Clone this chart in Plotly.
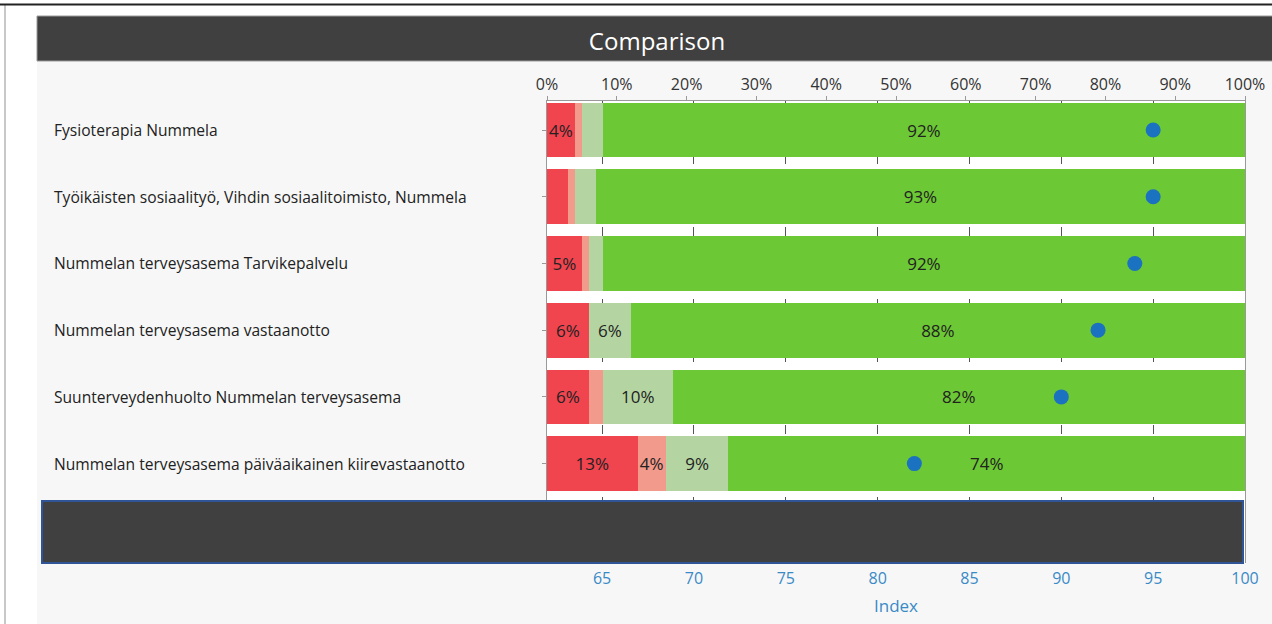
import plotly.graph_objects as go

categories = [
    "Fysioterapia Nummela",
    "Työikäisten sosiaalityö, Vihdin sosiaalitoimisto, Nummela",
    "Nummelan terveysasema Tarvikepalvelu",
    "Nummelan terveysasema vastaanotto",
    "Suunterveydenhuolto Nummelan terveysasema",
    "Nummelan terveysasema päiväaikainen kiirevastaanotto",
]
very_dissatisfied = [4, 3, 5, 6, 6, 13]
dissatisfied = [1, 1, 1, 0, 2, 4]
satisfied = [3, 3, 2, 6, 10, 9]
very_satisfied = [92, 93, 92, 88, 82, 74]
index_values = [95, 95, 94, 92, 90, 82]

pct_ticks = list(range(0, 101, 10))
pct_labels = [f"{t}%" for t in pct_ticks]
index_ticks = list(range(65, 101, 5))

series = [
    ("Very dissatisfied", very_dissatisfied, "#f0444f"),
    ("Dissatisfied", dissatisfied, "#f29a8b"),
    ("Satisfied", satisfied, "#b4d5a1"),
    ("Very satisfied", very_satisfied, "#6cc834"),
]

FONT = "Open Sans"
fig = go.Figure()
for name, vals, col in series:
    fig.add_trace(go.Bar(
        y=categories, x=vals, name=name, orientation="h",
        marker=dict(color=col, line=dict(width=0)),
        text=[f"{v}%" if v >= 4 else "" for v in vals],
        textposition="inside", insidetextanchor="middle", textangle=0,
        textfont=dict(family=FONT, size=17, color="#222222"),
        xaxis="x", yaxis="y", showlegend=False,
    ))

fig.add_trace(go.Scatter(
    y=categories, x=index_values, mode="markers",
    marker=dict(size=15, color="#1a72c0"),
    xaxis="x2", yaxis="y", showlegend=False, name="Index",
))

W, H = 1272, 624
L, R, T, B = 547, 1245, 101, 563


def px(x):
    return (x - L) / (R - L)


def py(y):
    return (B - y) / (B - T)


shapes = [
    dict(type="rect", xref="paper", yref="paper", x0=px(37), x1=px(1275), y0=py(630), y1=py(61),
         fillcolor="#f7f7f7", line=dict(width=0), layer="below"),
    dict(type="rect", xref="paper", yref="paper", x0=0, x1=1, y0=0, y1=1,
         fillcolor="white", line=dict(width=0), layer="below"),
    dict(type="rect", xref="paper", yref="paper", x0=px(37), x1=px(1275), y0=py(61), y1=py(16),
         fillcolor="#404040", line=dict(width=1, color="#9a9a9a"), layer="below"),
    dict(type="line", xref="paper", yref="paper", x0=px(5), x1=px(5), y0=py(630), y1=py(4),
         line=dict(width=2, color="#c8c8c8"), layer="below"),
    dict(type="line", xref="paper", yref="paper", x0=px(0), x1=px(1275), y0=py(4.5), y1=py(4.5),
         line=dict(width=2, color="#222222"), layer="below"),
    dict(type="rect", xref="paper", yref="paper", x0=px(42), x1=px(1243), y0=py(563), y1=py(501),
         fillcolor="#404040", line=dict(width=2, color="#2f5597"), layer="above"),
]

annotations = [
    dict(text=c, xref="paper", yref="y", x=px(52), y=c, xanchor="left", yanchor="middle",
         showarrow=False, font=dict(family=FONT, size=15.6, color="#222222"))
    for c in categories
]

fig.update_layout(
    width=W, height=H,
    margin=dict(l=L, r=W - R, t=T, b=H - B, pad=0, autoexpand=False),
    paper_bgcolor="white", plot_bgcolor="white",
    barmode="stack", bargap=0.18,
    font=dict(family=FONT, color="#333333"),
    title=dict(text="Comparison", x=657 / W, xref="container", xanchor="center",
               y=1 - 42 / H, yref="container", yanchor="middle",
               font=dict(family=FONT, size=24, color="white")),
    xaxis=dict(side="top", range=[0, 100], tickvals=pct_ticks, ticktext=pct_labels,
               showline=True, linecolor="#999999", linewidth=1, ticks="outside", ticklen=4,
               tickcolor="#999999", showgrid=False, zeroline=False, automargin=False,
               tickfont=dict(family=FONT, size=16, color="#333333")),
    xaxis2=dict(overlaying="x", side="bottom", range=[62, 100], tickvals=index_ticks,
                showgrid=True, griddash="dash", gridcolor="#555555", gridwidth=1,
                showline=False, ticks="", zeroline=False, ticklabelstandoff=4, automargin=False,
                tickfont=dict(family=FONT, size=16, color="#3a8ac6"),
                title=dict(text="Index", font=dict(family=FONT, size=17, color="#3a8ac6"), standoff=12)),
    yaxis=dict(type="category", categoryarray=categories, range=[6.49, -0.435],
               showline=True, linecolor="#999999", linewidth=1, mirror=True,
               ticks="outside", ticklen=4, tickcolor="#999999", automargin=False,
               showticklabels=False, showgrid=False, zeroline=False),
    shapes=shapes, annotations=annotations,
    uniformtext=dict(minsize=17, mode="show"),
)

fig.write_html("out.html", config={"displayModeBar": False},
               post_script="document.body.style.margin='0';document.body.style.padding='0';")
